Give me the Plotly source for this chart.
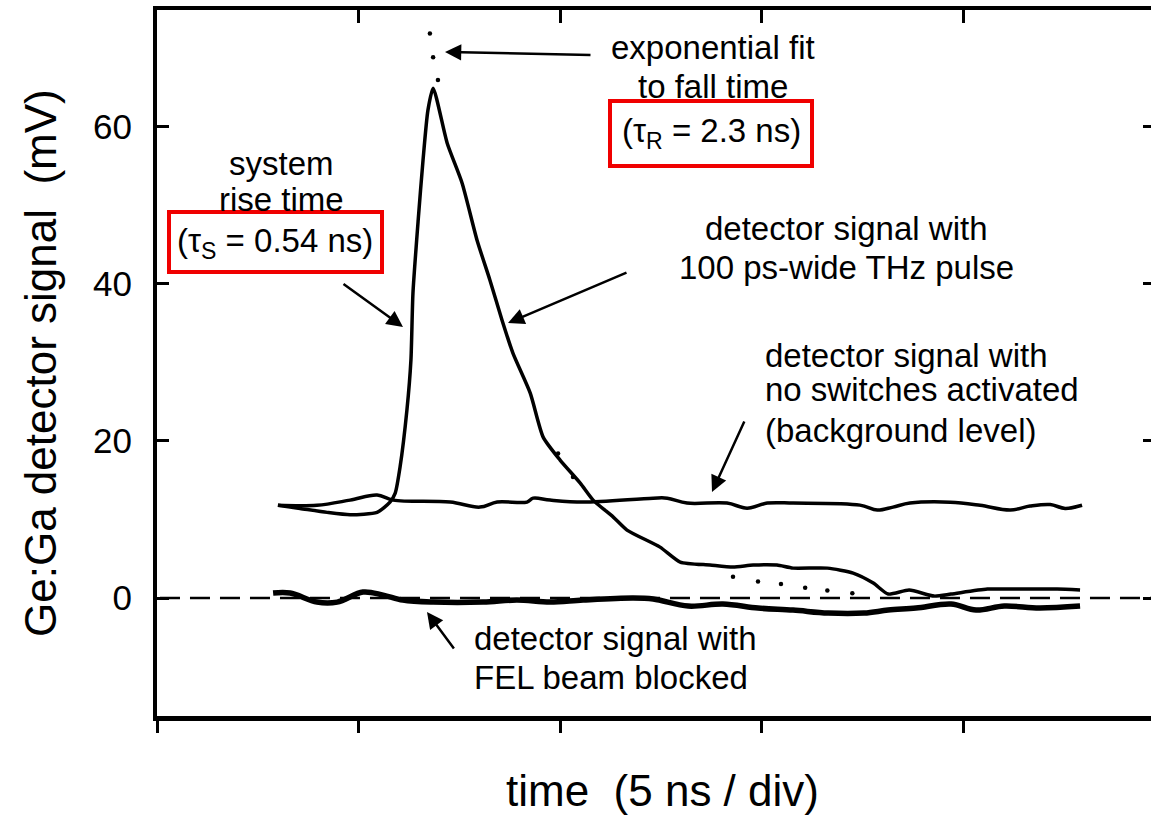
import plotly.graph_objects as go

# ---------------- data (time in ns, signal in mV) ----------------
thz_t = [3.00, 3.55, 4.22, 4.79, 5.46, 5.78, 5.91, 6.03, 6.20, 6.30, 6.35, 6.48, 6.60, 6.72, 6.85,
         7.20, 7.57, 7.94, 8.26, 8.56, 8.83, 9.26, 9.58, 10.00, 10.50, 10.82, 11.32, 11.66, 12.48,
         12.98, 13.72, 14.29, 14.79, 15.38, 15.78, 16.63, 17.27, 17.77, 18.14, 18.66, 19.28, 19.70,
         20.60, 21.46, 22.33, 22.90]
thz_v = [11.8, 11.4, 10.9, 10.6, 10.9, 12.2, 13.35, 16.66, 23.9, 30.3, 38.8, 48.1, 55.7, 62.0, 64.85,
         57.85, 52.77, 45.52, 40.43, 35.35, 31.15, 26.06, 20.47, 17.55, 14.62, 12.46, 10.30, 8.65, 6.48,
         4.58, 4.20, 3.94, 4.20, 4.20, 3.81, 3.81, 3.18, 1.91, 0.51, 1.02, 0.25, 0.51,
         1.14, 1.14, 1.14, 1.02]

bg_t = [3.00, 3.97, 4.79, 5.46, 5.86, 7.27, 8.01, 8.44, 9.18, 9.33, 9.75, 10.57, 12.31, 12.66, 13.15,
        14.14, 14.64, 15.14, 15.78, 17.44, 17.87, 18.26, 18.68, 19.68, 20.42, 21.17, 21.66, 22.16,
        22.53, 22.95]
bg_v = [11.8, 11.8, 12.46, 13.1, 12.46, 12.21, 11.57, 12.21, 12.21, 12.71, 12.46, 12.21, 12.71, 12.71,
        12.08, 12.08, 11.44, 12.08, 12.08, 11.82, 11.19, 11.57, 12.08, 12.2, 11.8, 11.2, 11.7, 11.9,
        11.4, 11.8]

fel_t = [2.88, 3.30, 3.97, 4.47, 5.11, 5.61, 6.10, 6.85, 8.09, 8.93, 9.75, 10.57, 11.81, 12.31, 13.18,
         14.04, 14.91, 15.78, 16.65, 17.54, 18.14, 18.83, 19.70, 20.32, 21.02, 21.89, 22.90]
fel_v = [0.64, 0.64, -0.51, -0.51, 0.76, 0.38, -0.25, -0.51, -0.51, -0.25, -0.51, -0.25, 0.0, -0.13,
         -1.02, -0.76, -1.27, -1.53, -1.91, -1.91, -1.53, -1.27, -0.76, -1.53, -1.02, -1.27, -1.02]

fit_t = [6.77, 6.85, 6.97, 9.95, 10.32, 14.29, 14.91, 15.48, 16.08, 16.63, 17.25]
fit_v = [71.8, 68.8, 65.9, 18.4, 15.4, 2.7, 2.1, 1.8, 1.3, 0.95, 0.6]

y_ticks = [0, 20, 40, 60]
y_range = [-15.0, 74.8]
x_range = [0.0, 24.66]
x_dtick = 5

FONT = "Liberation Sans, Arial, Helvetica, sans-serif"

# ---------------- layout geometry (page pixels) ----------------
W, H = 1151, 816
L, R, T, B = 157, 1151, 10, 716


def px(x, y):
    return (x - L) / (R - L), (B - y) / (B - T)


fig = go.Figure()

fig.add_trace(go.Scatter(x=fel_t, y=fel_v, mode="lines", line=dict(color="black", width=5.5, shape="spline"),
                         hoverinfo="skip", showlegend=False))
fig.add_trace(go.Scatter(x=bg_t, y=bg_v, mode="lines", line=dict(color="black", width=3.5, shape="spline"),
                         hoverinfo="skip", showlegend=False))
fig.add_trace(go.Scatter(x=thz_t, y=thz_v, mode="lines", line=dict(color="black", width=3.5, shape="spline",
                                                                  smoothing=0.6),
                         hoverinfo="skip", showlegend=False))
fig.add_trace(go.Scatter(x=fit_t, y=fit_v, mode="markers", marker=dict(color="black", size=4.5),
                         hoverinfo="skip", showlegend=False))
# dummy trace for mirrored axes
fig.add_trace(go.Scatter(x=x_range, y=y_range, xaxis="x2", yaxis="y2", mode="none",
                         hoverinfo="skip", showlegend=False))

# dashed zero line
fig.add_shape(type="line", xref="paper", x0=0.003, x1=1, yref="y", y0=0, y1=0,
              line=dict(color="black", width=2.5, dash="20px,10px"), layer="below")

annotations = []


def text(x, y, s, size=33, xanchor="center"):
    a, b = px(x, y)
    annotations.append(dict(x=a, y=b, xref="paper", yref="paper", text=s, showarrow=False,
                            xanchor=xanchor, yanchor="middle",
                            font=dict(family=FONT, size=size, color="black")))


def arrow(x_head, y_head, x_tail, y_tail):
    a, b = px(x_head, y_head)
    annotations.append(dict(x=a, y=b, xref="paper", yref="paper", text="", showarrow=True,
                            ax=x_tail - x_head, ay=y_tail - y_head, arrowhead=2, arrowsize=1.3,
                            arrowwidth=2.5, arrowcolor="black", standoff=0))


text(713, 48, "exponential fit")
text(713, 87, "to fall time")
text(711, 133, "(τ<sub>R</sub> = 2.3 ns)")
arrow(445, 52, 592, 55)

text(281, 163, "system")
text(281, 200, "rise time")
text(275, 243, "(τ<sub>S</sub> = 0.54 ns)")
arrow(403, 327, 342, 283)

text(846, 228, "detector signal with")
text(846, 267, "100 ps-wide THz pulse")
arrow(508, 323, 628, 272)

text(763, 355, "detector signal with", xanchor="left")
text(763, 390, "no switches activated", xanchor="left")
text(763, 430, "(background level)", xanchor="left")
arrow(712, 492, 745, 420)

text(472, 638, "detector signal with", xanchor="left")
text(472, 677, "FEL beam blocked", xanchor="left")
arrow(427, 612, 455, 650)

# axis titles
text(662, 790, "time\u00a0\u00a0(5 ns / div)", size=44)
a, b = px(40, 363)
annotations.append(dict(x=a, y=b, xref="paper", yref="paper", text="Ge:Ga detector signal\u00a0\u00a0(mV)",
                        showarrow=False, textangle=-90, xanchor="center", yanchor="middle",
                        font=dict(family=FONT, size=44, color="black")))

# red boxes
for (x0, y0, x1, y1) in [(610, 101, 812, 166), (169, 212, 382, 272)]:
    a0, b0 = px(x0, y0)
    a1, b1 = px(x1, y1)
    fig.add_shape(type="rect", xref="paper", yref="paper", x0=a0, x1=a1, y0=b1, y1=b0,
                  line=dict(color="rgb(240,0,0)", width=4), fillcolor="rgba(0,0,0,0)")

fig.update_layout(
    width=W, height=H,
    margin=dict(l=L, r=W - R, t=T, b=H - B),
    paper_bgcolor="white", plot_bgcolor="white",
    showlegend=False,
    annotations=annotations,
    xaxis=dict(range=x_range, dtick=x_dtick, tick0=0, showticklabels=False, ticks="outside",
               ticklen=12, tickwidth=3, tickcolor="black", showline=True, linewidth=5,
               linecolor="black", showgrid=False, zeroline=False),
    xaxis2=dict(range=x_range, dtick=x_dtick, tick0=0, overlaying="x", side="top",
                showticklabels=False, ticks="inside", ticklen=13, tickwidth=3, tickcolor="black",
                showline=True, linewidth=4, linecolor="black", showgrid=False, zeroline=False),
    yaxis=dict(range=y_range, tickvals=y_ticks, ticks="inside", ticklen=12, tickwidth=3,
               tickcolor="black", showline=True, linewidth=4, linecolor="black", showgrid=False,
               zeroline=False, ticklabelstandoff=14,
               tickfont=dict(family=FONT, size=35, color="black")),
    yaxis2=dict(range=y_range, tickvals=y_ticks, overlaying="y", side="right", showticklabels=False,
                ticks="inside", ticklen=8, tickwidth=3, tickcolor="black", showline=False,
                showgrid=False, zeroline=False),
)

fig.write_html("out.html", config={"displayModeBar": False})
